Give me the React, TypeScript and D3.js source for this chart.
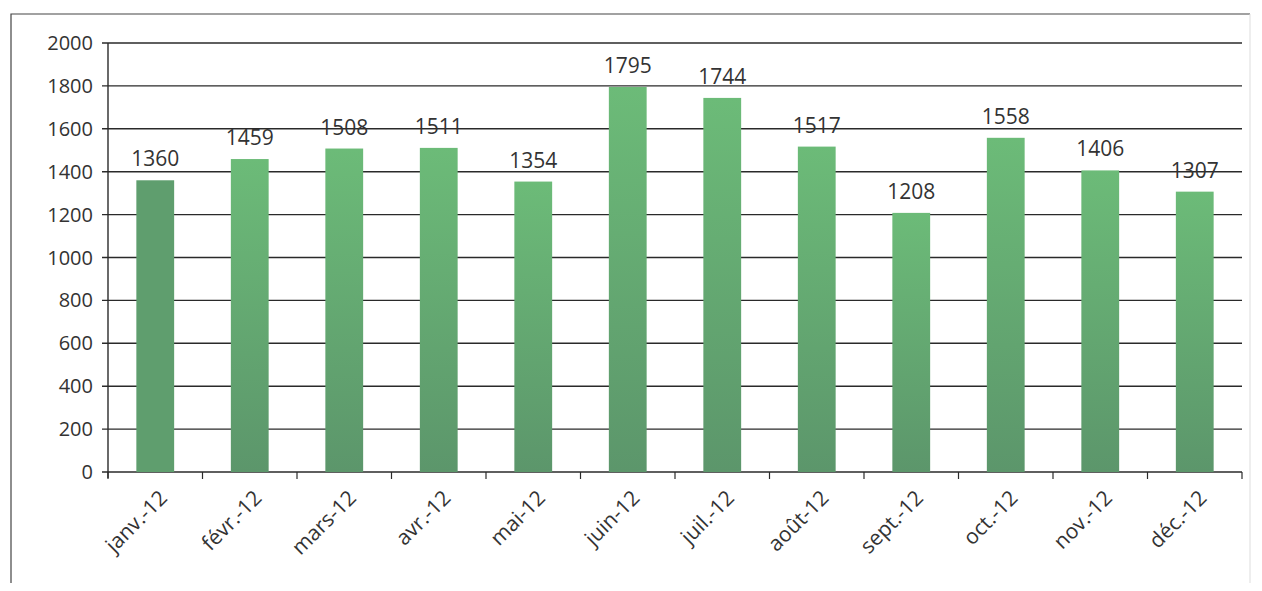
import React, { useEffect, useRef } from 'react';
import * as d3 from 'd3';

const months = [
  'janv.-12', 'févr.-12', 'mars-12', 'avr.-12', 'mai-12', 'juin-12',
  'juil.-12', 'août-12', 'sept.-12', 'oct.-12', 'nov.-12', 'déc.-12',
];
const values = [1360, 1459, 1508, 1511, 1354, 1795, 1744, 1517, 1208, 1558, 1406, 1307];
const yTicks = [0, 200, 400, 600, 800, 1000, 1200, 1400, 1600, 1800, 2000];

const W = 1262;
const H = 591;

const App: React.FC = () => {
  const svgRef = useRef<SVGSVGElement>(null);

  useEffect(() => {
    if (!svgRef.current) return;
    const margin = { top: 43, right: 20, bottom: 119, left: 108 };
    const innerW = W - margin.left - margin.right;
    const innerH = H - margin.top - margin.bottom;
    const font = "'Open Sans', 'Noto Sans', sans-serif";

    const root = d3.select(svgRef.current);
    root.selectAll('*').remove();

    const defs = root.append('defs');
    const grad = defs
      .append('linearGradient')
      .attr('id', 'barGrad')
      .attr('x1', 0).attr('y1', 0).attr('x2', 0).attr('y2', 1);
    grad.append('stop').attr('offset', '0%').attr('stop-color', '#6cbb78');
    grad.append('stop').attr('offset', '100%').attr('stop-color', '#5c966b');

    // outer frame: strong left/top, faint right
    root.append('rect').attr('width', W).attr('height', H).attr('fill', '#fff');
    root.append('path')
      .attr('d', `M11,${H} L11,14 L${W - 12},14`)
      .attr('fill', 'none')
      .attr('stroke', '#444')
      .attr('stroke-width', 1.2);
    root.append('line')
      .attr('x1', W - 12).attr('x2', W - 12)
      .attr('y1', 14).attr('y2', H)
      .attr('stroke', '#ddd')
      .attr('stroke-width', 1);

    const g = root.append('g').attr('transform', `translate(${margin.left},${margin.top})`);

    const x = d3.scaleBand().domain(months).range([0, innerW]).paddingInner(0.6).paddingOuter(0.3);
    const y = d3.scaleLinear().domain([0, 2000]).range([innerH, 0]);

    // gridlines
    g.append('g')
      .selectAll('line')
      .data(yTicks)
      .join('line')
      .attr('x1', -6)
      .attr('x2', innerW)
      .attr('y1', (d) => y(d))
      .attr('y2', (d) => y(d))
      .attr('stroke', '#2a2a2a')
      .attr('stroke-width', 1.4);

    // y labels
    g.append('g')
      .selectAll('text')
      .data(yTicks)
      .join('text')
      .attr('x', -15)
      .attr('y', (d) => y(d))
      .attr('dy', '0.35em')
      .attr('text-anchor', 'end')
      .attr('font-family', font)
      .attr('font-size', 20)
      .attr('fill', '#333')
      .text((d) => d);

    // y axis line
    g.append('line')
      .attr('x1', 0).attr('x2', 0)
      .attr('y1', 0).attr('y2', innerH + 6)
      .attr('stroke', '#2a2a2a')
      .attr('stroke-width', 1.4);

    // bars
    g.append('g')
      .selectAll('rect')
      .data(values)
      .join('rect')
      .attr('x', (_, i) => x(months[i])!)
      .attr('width', x.bandwidth())
      .attr('y', (d) => y(d))
      .attr('height', (d) => innerH - y(d))
      .attr('fill', (_, i) => (i === 0 ? '#5f9e6e' : 'url(#barGrad)'));

    // data labels
    g.append('g')
      .selectAll('text')
      .data(values)
      .join('text')
      .attr('x', (_, i) => x(months[i])! + x.bandwidth() / 2)
      .attr('y', (d) => y(d) - 14)
      .attr('text-anchor', 'middle')
      .attr('font-family', font)
      .attr('font-size', 21)
      .attr('fill', '#333')
      .text((d) => d);

    // category ticks
    g.append('g')
      .selectAll('line')
      .data(d3.range(months.length + 1))
      .join('line')
      .attr('x1', (i) => i * (innerW / months.length))
      .attr('x2', (i) => i * (innerW / months.length))
      .attr('y1', innerH)
      .attr('y2', innerH + 7)
      .attr('stroke', '#2a2a2a')
      .attr('stroke-width', 1.2);

    // x labels
    g.append('g')
      .selectAll('text')
      .data(months)
      .join('text')
      .attr('transform', (d) => {
        const cx = x(d)! + x.bandwidth() / 2 + 8;
        return `translate(${cx},${innerH + 22}) rotate(-45)`;
      })
      .attr('text-anchor', 'end')
      .attr('dy', '0.35em')
      .attr('font-family', font)
      .attr('font-size', 21)
      .attr('fill', '#333')
      .text((d) => d);
  }, []);

  return (
    <svg ref={svgRef} width={W} height={H} style={{ display: 'block', margin: '-8px' }}></svg>
  );
};

export default App;
